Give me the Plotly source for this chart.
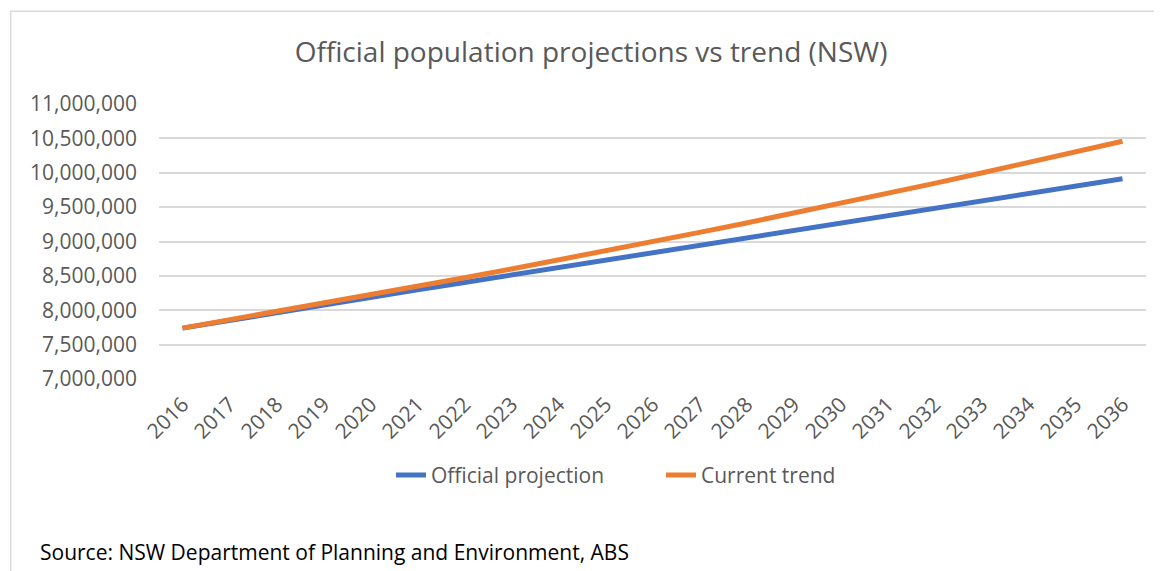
import plotly.graph_objects as go

years = [str(y) for y in range(2016, 2037)]
official_projection = [
    7740000, 7855000, 7968000, 8080000, 8190000, 8298000, 8405000,
    8512000, 8618000, 8725000, 8832000, 8940000, 9048000, 9156000,
    9264000, 9372000, 9480000, 9588000, 9696000, 9804000, 9912000,
]
current_trend = [
    7740000, 7860000, 7980000, 8100000, 8222000, 8346000, 8472000,
    8600000, 8730000, 8862000, 8996000, 9132000, 9270000, 9410000,
    9553000, 9698000, 9846000, 9996000, 10148000, 10302000, 10458000,
]
y_ticks = [7000000 + 500000 * i for i in range(9)]

# page body has an 8px margin; work in screen coordinates and convert
OFF = 8
W, H = 1162 - OFF, 571 - OFF
L = 158.5 - OFF
R = W - (1146.5 - OFF)
T = 103.7 - OFF
B = H - (378.7 - OFF)
pw, ph = W - L - R, H - T - B


def px_x(p):
    return (p - OFF - L) / pw


def px_y(p):
    return (H - B - (p - OFF)) / ph


font = "Open Sans"
grey = "#595959"

fig = go.Figure()
fig.add_trace(go.Scatter(x=years, y=official_projection, mode="lines",
                         name="Official projection",
                         line=dict(color="#4472C4", width=5)))
fig.add_trace(go.Scatter(x=years, y=current_trend, mode="lines",
                         name="Current trend",
                         line=dict(color="#ED7D31", width=5)))

fig.update_layout(
    width=W, height=H,
    margin=dict(l=L, r=R, t=T, b=B, pad=0),
    paper_bgcolor="white", plot_bgcolor="white",
    title=dict(text="Official population projections vs trend (NSW)",
               x=px_x(591), xref="paper", xanchor="center",
               y=1 - (52 - OFF) / H, yanchor="middle",
               font=dict(family=font, size=28, color=grey)),
    font=dict(family=font, color=grey),
    showlegend=True,
    legend=dict(orientation="h", x=px_x(661), xanchor="center",
                y=px_y(475), yanchor="middle",
                font=dict(family=font, size=21, color=grey),
                entrywidth=225, entrywidthmode="pixels"),
    xaxis=dict(type="category", range=[-0.5, 20.5], tickangle=-45,
               showgrid=False, showline=False, ticks="",
               tickfont=dict(family=font, size=21, color=grey),
               ticklabelstandoff=8),
    yaxis=dict(range=[7000000, 11000000], tickvals=y_ticks,
               tickformat=",", showgrid=True, gridcolor="#D9D9D9",
               gridwidth=1.5, zeroline=False, showline=False, ticks="",
               tickfont=dict(family=font, size=21, color=grey),
               ticklabelstandoff=21),
)

fig.add_shape(type="rect", xref="paper", yref="paper",
              x0=px_x(10), x1=px_x(1175), y0=px_y(600), y1=px_y(11),
              line=dict(color="#D9D9D9", width=1.5), fillcolor="rgba(0,0,0,0)",
              layer="below")

fig.add_annotation(text="Source: NSW Department of Planning and Environment, ABS",
                   xref="paper", yref="paper", x=px_x(37), y=px_y(552),
                   xanchor="left", yanchor="middle", showarrow=False,
                   font=dict(family=font, size=21, color="#000000"))

fig.write_html("out.html")
